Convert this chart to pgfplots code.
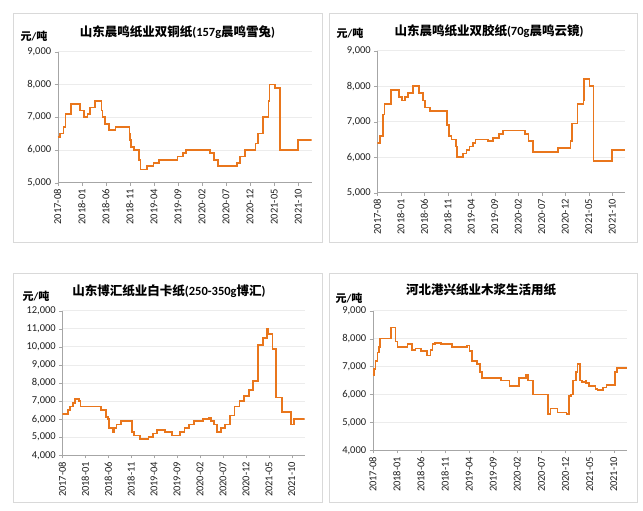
\documentclass[border=0pt]{standalone}
\usepackage{fontspec}
\setmainfont{Carlito}
\newfontfamily\cjk{Noto Sans CJK SC}
\usepackage{pgfplots}
\pgfplotsset{compat=1.18}
\definecolor{lineorange}{RGB}{233,118,28}
\definecolor{framegray}{RGB}{217,217,217}
\definecolor{axisgray}{RGB}{166,166,166}
\definecolor{gridgray}{RGB}{236,236,236}
\definecolor{labelblack}{RGB}{30,30,30}
\pgfplotsset{
  paper/.style={
    scale only axis,
    xmin=0, xmax=52.8,
    axis x line*=bottom, axis y line*=left,
    axis line style={axisgray,-},
    xtick={0,5,...,50},
    xticklabels={2017-08,2018-01,2018-06,2018-11,2019-04,2019-09,2020-02,2020-07,2020-12,2021-05,2021-10},
    x tick label style={rotate=90, anchor=east, font=\fontsize{10.5}{12}\selectfont, color=labelblack},
    y tick label style={font=\fontsize{10.5}{12}\selectfont, color=labelblack},
    scaled y ticks=false,
    ymajorgrids, grid style={gridgray, line width=0.8pt},
    tick style={axisgray},
    major tick length=3pt,
    tick align=outside,
    /pgf/number format/.cd, 1000 sep={,}, assume math mode=true,
  },
  price/.style={lineorange, line width=1.7pt, const plot},
}
\begin{document}
\begin{tikzpicture}
\useasboundingbox (0,0) rectangle (643pt,511pt);
% panel frames
\draw[framegray, line width=0.8pt] (13pt,269pt) rectangle (322pt,498pt);
\draw[framegray, line width=0.8pt] (329.5pt,269pt) rectangle (637pt,498pt);
\draw[framegray, line width=0.8pt] (13pt,9pt) rectangle (322pt,238pt);
\draw[framegray, line width=0.8pt] (329.5pt,9pt) rectangle (637pt,238pt);

% 山东晨鸣 双铜纸
\begin{axis}[paper, anchor=south west, at={(57.7pt,328.3pt)}, width=254pt, height=131pt,
  ymin=5000, ymax=9000, ytick={5000,6000,...,9000}]
\addplot[price] coordinates {(0,6400)(0.5,6500)(1.2,6700)(1.6,7100)(2.7,7400)(4.6,7200)(5.4,7000)(6.2,7100)(6.7,7300)(7.7,7500)(9.1,7200)(9.3,7000)(9.9,6800)(10.6,6600)(12.0,6700)(14.9,6500)(15.1,6300)(15.3,6100)(15.9,6000)(16.9,5700)(17.2,5400)(18.5,5500)(19.9,5600)(21.0,5700)(24.9,5800)(26.0,5900)(26.7,6000)(31.6,5900)(32.5,5700)(33.3,5500)(37.3,5600)(37.9,5800)(39.0,6000)(41.1,6200)(41.6,6500)(42.7,7000)(43.8,7500)(44.0,8000)(45.1,7900)(46.2,6000)(49.9,6300)(52.8,6300)};
\end{axis}

% 山东晨鸣 双胶纸
\begin{axis}[paper, anchor=south west, at={(377.3pt,318.3pt)}, width=248pt, height=142pt,
  ymin=5000, ymax=9000, ytick={5000,6000,...,9000}]
\addplot[price] coordinates {(0,6400)(0.57,6600)(1.14,7200)(1.56,7500)(2.98,7900)(4.55,7700)(5.26,7600)(5.9,7700)(6.53,7800)(7.67,8000)(8.95,7800)(9.66,7600)(10.2,7400)(11.2,7300)(14.8,6900)(15.2,6600)(15.8,6500)(16.8,6300)(17.0,6000)(18.3,6100)(19.0,6200)(19.6,6300)(20.3,6400)(20.9,6500)(23.6,6450)(24.7,6550)(25.9,6650)(26.8,6750)(31.5,6650)(32.2,6450)(33.1,6150)(38.4,6250)(41.1,6450)(41.5,6950)(42.6,7500)(43.9,7600)(44.0,8200)(45.2,8000)(46.0,5900)(50.0,6200)(52.8,6200)};
\end{axis}

% 山东博汇 白卡纸
\begin{axis}[paper, anchor=south west, at={(62.3pt,55.7pt)}, width=242.4pt, height=144.6pt,
  ymin=4000, ymax=12000, ytick={4000,5000,...,12000}]
\addplot[price] coordinates {(0,6300)(1.3,6500)(1.67,6700)(2.39,6900)(2.83,7100)(3.70,7000)(3.99,6700)(8.49,6500)(9.51,6100)(9.95,6000)(10.1,5500)(11.0,5300)(11.2,5500)(11.8,5700)(12.8,5900)(15.2,5300)(15.6,5100)(16.9,4900)(18.8,5000)(19.7,5200)(20.7,5400)(22.4,5300)(23.9,5100)(25.6,5300)(26.6,5500)(27.6,5700)(28.7,5900)(30.7,6000)(32.0,6050)(32.4,5900)(33.0,5700)(33.7,5300)(34.6,5500)(35.5,5700)(36.5,6200)(37.5,6700)(38.6,7000)(39.6,7300)(40.6,7600)(41.6,8100)(42.6,10100)(43.7,10500)(44.6,11000)(44.9,10700)(45.8,9900)(46.5,7200)(47.8,6400)(49.8,5700)(50.4,6000)(52.8,6000)};
\end{axis}

% 河北港兴 生活用纸
\begin{axis}[paper, anchor=south west, at={(372.7pt,60.7pt)}, width=254.6pt, height=139.6pt,
  ymin=4000, ymax=9000, ytick={4000,5000,...,9000}]
\addplot[price] coordinates {(0,6700)(0.28,6900)(0.55,7200)(0.97,7500)(1.24,7700)(1.52,8000)(3.73,8400)(4.70,7900)(5.12,7700)(7.19,7800)(8.16,7600)(8.85,7650)(9.96,7550)(11.2,7400)(12.0,7600)(12.4,7800)(12.9,7850)(14.1,7800)(16.5,7700)(19.6,7750)(20.1,7550)(20.6,7200)(21.7,7100)(22.3,6800)(22.7,6600)(26.6,6500)(28.4,6300)(30.4,6600)(31.8,6700)(32.2,6500)(33.2,6000)(36.4,5300)(36.9,5500)(38.3,5350)(40.2,5300)(40.7,5950)(41.1,6000)(41.5,6500)(42.2,6800)(42.5,7100)(43.0,6500)(43.4,6450)(44.1,6500)(44.3,6400)(44.8,6300)(46.2,6200)(46.6,6150)(47.7,6250)(48.5,6350)(50.2,6800)(50.6,6950)(52.8,6950)};
\end{axis}

% titles and unit labels
\begin{scope}[every node/.style={font=\bfseries\fontsize{12.5}{14}\selectfont, text=black, inner sep=0pt}]
\node at (177.5pt,479.3pt) {{\cjk 山东晨鸣纸业双铜纸}(157g{\cjk 晨鸣雪兔})};
\node at (489pt,480pt) {{\cjk 山东晨鸣纸业双胶纸}(70g{\cjk 晨鸣云镜})};
\node at (169pt,219.5pt) {{\cjk 山东博汇纸业白卡纸}(250-350g{\cjk 博汇})};
\node at (481pt,221pt) {{\cjk 河北港兴纸业木浆生活用纸}};
\end{scope}
\begin{scope}[every node/.style={font=\bfseries\fontsize{11}{13}\selectfont, text=black, inner sep=0pt}]
\node at (34pt,475pt) {{\cjk 元}/{\cjk 吨}};
\node at (350pt,477.7pt) {{\cjk 元}/{\cjk 吨}};
\node at (36pt,214.3pt) {{\cjk 元}/{\cjk 吨}};
\node at (349pt,212.7pt) {{\cjk 元}/{\cjk 吨}};
\end{scope}
\end{tikzpicture}
\end{document}
